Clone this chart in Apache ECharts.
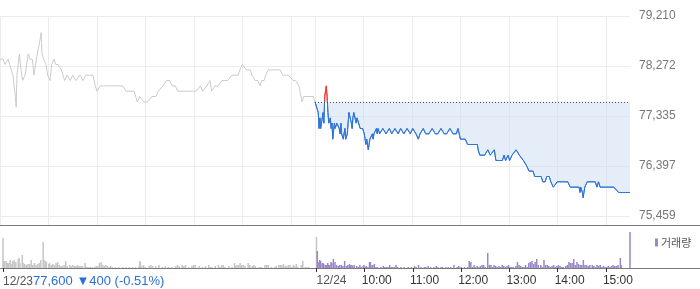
<!DOCTYPE html>
<html><head><meta charset="utf-8">
<script src="https://cdn.jsdelivr.net/npm/echarts@6/dist/echarts.min.js"></script>
<style>html,body{margin:0;padding:0;background:#fff}#c{width:700px;height:289px}</style>
</head><body><div id="c"></div>
<script>
// ---- data (minutes from 09:00 of each day, price in KRW) ----
const dayLabels = ['12/23', '12/24'];
const hourLabels = ['10:00', '11:00', '12:00', '13:00', '14:00', '15:00'];
const yTicks = [75459, 76397, 77335, 78272, 79210];
const prevClose = 77600, prevChange = -400, prevPct = -0.51;

const day1Price = [[0,78400],[4,78400],[6,78300],[10,78400],[12,78300],[16,78100],[19,77700],[20,77500],[21,78100],[24,78500],[26,78200],[28,78000],[31,78100],[35,78500],[37,78400],[40,78400],[42,78100],[45,78400],[47,78400],[50,78800],[51,78900],[52,78500],[54,78400],[57,78300],[59,78100],[62,78000],[64,78300],[67,78400],[69,78300],[72,78300],[76,78200],[78,78200],[80,78000],[83,78100],[87,78000],[90,78100],[94,78000],[99,78100],[103,78000],[106,78100],[111,78100],[115,78100],[118,77900],[120,77800],[124,77900],[128,77900],[131,77900],[136,77900],[140,77900],[145,77900],[149,77900],[152,77900],[156,77800],[161,77800],[166,77800],[170,77600],[173,77700],[178,77600],[183,77600],[188,77700],[193,77700],[196,77800],[198,77800],[202,77900],[206,78000],[210,78000],[213,77900],[217,77900],[220,77800],[225,77800],[229,77800],[233,77800],[238,77800],[243,77800],[248,77900],[251,77800],[256,77900],[260,78000],[262,77800],[266,77900],[270,77900],[275,78000],[279,78000],[282,78000],[287,78100],[291,78100],[295,78100],[297,78200],[300,78300],[302,78300],[305,78200],[307,78200],[310,78200],[312,78100],[316,78000],[319,78000],[322,77900],[324,78000],[327,78000],[329,78100],[332,78200],[336,78200],[339,78200],[343,78200],[347,78200],[350,78100],[353,78100],[357,78100],[359,78100],[363,78000],[366,78000],[370,77900],[371,77900],[374,77600],[376,77700],[379,77700],[381,77700],[384,77700],[388,77700],[390,77600]];

const day2Price = [[0,77600],[1,77600],[4,77400],[5,77100],[6,77300],[7,77100],[9,77300],[10,77400],[11,77200],[12,77700],[14,77900],[15,77700],[16,77400],[17,77200],[19,77300],[20,77100],[21,77200],[22,76900],[24,77200],[25,77100],[26,77100],[27,77200],[30,77100],[31,77000],[32,77200],[33,77000],[35,76900],[36,76900],[37,77100],[38,76900],[40,77000],[41,77200],[42,77400],[43,77400],[45,77200],[46,77100],[47,77300],[48,77400],[50,77400],[51,77200],[52,77300],[53,77300],[54,77300],[56,77100],[57,77100],[58,77100],[59,77100],[61,77000],[62,76900],[63,76800],[64,76900],[66,76700],[67,76800],[68,76900],[71,77000],[72,76900],[73,77000],[74,77000],[76,77100],[77,77000],[78,77100],[80,77000],[84,77100],[88,77000],[92,77100],[95,77000],[99,77100],[103,77000],[106,77100],[110,77000],[114,77100],[118,77000],[121,77100],[125,77000],[128,76900],[130,77000],[134,77100],[137,77000],[141,77000],[145,77100],[149,77000],[152,77000],[156,77100],[160,77000],[163,77000],[167,77100],[171,77000],[175,77000],[177,77100],[180,76900],[182,76900],[186,76900],[189,76800],[194,76800],[198,76800],[201,76800],[202,76700],[204,76600],[207,76600],[210,76600],[214,76700],[217,76600],[219,76600],[222,76700],[224,76500],[227,76500],[229,76500],[232,76500],[234,76600],[236,76500],[239,76600],[241,76500],[244,76600],[246,76600],[249,76700],[250,76700],[253,76600],[255,76600],[258,76500],[260,76500],[262,76400],[265,76300],[267,76300],[270,76300],[272,76200],[275,76200],[277,76200],[280,76200],[282,76100],[285,76100],[287,76200],[290,76200],[292,76100],[295,76000],[297,76000],[300,76100],[302,76100],[306,76100],[310,76100],[313,76100],[316,76000],[318,76000],[322,76000],[324,76000],[327,76000],[328,75900],[329,76000],[331,75900],[332,75800],[333,75900],[334,76000],[337,76100],[339,76100],[343,76100],[347,76100],[349,76000],[351,76100],[352,76100],[353,76000],[354,76000],[357,76000],[361,76000],[365,76000],[370,76000],[372,76000],[376,75900],[384,75900],[390,75900]];

// volume (thousand shares)
const day1Vol = [[0,30],[1,7],[2,7],[4,7],[5,5],[6,5],[7,5],[9,8],[10,4],[12,7],[14,8],[16,6],[19,9],[20,10],[21,5],[24,13],[25,5],[27,4],[29,3],[31,4],[33,4],[35,8],[37,3],[39,5],[41,3],[43,4],[45,5],[47,8],[50,26],[51,8],[53,7],[54,6],[57,4],[58,5],[60,3],[62,4],[64,3],[66,5],[68,6],[70,3],[72,2],[74,2],[76,3],[78,7],[80,2],[83,3],[85,2],[87,3],[89,2],[91,2],[93,3],[95,2],[97,2],[99,2],[102,5],[103,2],[105,1],[107,1],[109,1],[111,1],[114,1],[116,2],[118,2],[120,5],[122,6],[124,3],[126,2],[128,3],[130,2],[132,1],[134,2],[136,1],[140,1],[144,1],[149,1],[153,1],[157,1],[161,1],[165,1],[169,1],[170,7],[171,6],[173,2],[175,3],[177,1],[182,2],[184,3],[186,2],[190,2],[194,3],[198,1],[202,2],[206,1],[210,1],[215,2],[217,3],[219,2],[223,3],[225,2],[227,3],[231,1],[235,2],[237,3],[239,3],[244,2],[248,1],[252,2],[256,3],[258,1],[260,1],[264,2],[268,3],[270,1],[272,3],[274,3],[276,1],[281,2],[285,1],[288,5],[289,2],[291,3],[293,3],[295,5],[297,3],[299,3],[301,2],[305,5],[307,3],[310,2],[312,3],[314,2],[318,1],[320,1],[322,1],[326,3],[328,3],[330,3],[334,1],[338,1],[340,2],[343,3],[345,3],[347,3],[349,4],[351,2],[353,2],[355,3],[357,3],[359,1],[361,3],[363,2],[365,4],[367,1],[371,3],[373,7],[376,1],[378,1],[380,1],[390,31]];

const day2Vol = [[1,17],[3,6],[4,8],[5,7],[7,5],[8,5],[9,4],[11,3],[12,3],[14,5],[15,3],[16,3],[18,6],[19,5],[21,9],[23,6],[25,3],[27,2],[29,3],[31,3],[33,2],[35,7],[37,2],[39,3],[41,4],[42,3],[44,3],[45,2],[47,3],[50,2],[52,1],[54,3],[56,1],[58,2],[59,3],[61,1],[62,2],[64,1],[66,6],[67,6],[69,3],[70,3],[72,4],[74,1],[76,1],[80,1],[83,2],[85,1],[87,1],[89,1],[91,3],[93,1],[95,1],[97,1],[99,3],[101,1],[105,1],[109,1],[114,1],[118,1],[122,2],[124,1],[127,3],[130,1],[134,1],[136,1],[139,2],[142,1],[146,1],[149,2],[151,1],[155,1],[157,1],[161,1],[164,1],[167,1],[171,3],[175,1],[177,2],[180,1],[184,1],[188,1],[190,7],[192,6],[194,1],[196,3],[198,1],[200,2],[202,1],[204,2],[206,3],[208,3],[210,1],[213,15],[215,3],[217,3],[219,1],[221,3],[223,2],[225,1],[227,2],[229,1],[231,3],[233,2],[235,1],[237,2],[239,3],[241,1],[243,1],[245,1],[248,2],[250,6],[252,3],[254,2],[256,1],[258,1],[260,3],[262,1],[264,5],[266,6],[268,7],[270,4],[272,6],[274,9],[276,3],[279,3],[281,1],[283,8],[285,3],[287,3],[289,2],[291,1],[293,2],[295,3],[297,1],[299,2],[301,3],[303,2],[305,1],[307,1],[310,2],[312,3],[314,6],[316,5],[318,5],[320,9],[322,3],[324,6],[326,4],[328,3],[330,3],[332,8],[334,3],[336,3],[338,2],[340,3],[343,3],[345,2],[347,1],[349,3],[351,2],[353,3],[355,1],[357,2],[359,1],[361,1],[363,2],[365,1],[367,2],[369,3],[371,2],[373,2],[375,3],[378,10],[379,3],[390,36]];

// ---- build ----
const DAY = 390;                        // minutes in one session
const cats = Array.from({length: 2 * DAY + 1}, (_, i) => String(i));
const fmt = v => Math.round(v).toLocaleString('en-US');
const isGrid = i => (i <= 360 && i % 60 === 0) || (i >= DAY && (i - DAY) % 60 === 0);
const isTick = i => i === 0 || (i >= DAY && i <= DAY + 360 && (i - DAY) % 60 === 0);
const prevText = fmt(prevClose) + ' ' + (prevChange < 0 ? '▼' : '▲') + Math.abs(prevChange) + ' (' + prevPct.toFixed(2) + '%)';
const shift = (arr, off) => arr.map(d => [d[0] + off, d[1]]);
const UP = '#f23c3c', DOWN = '#2f74d8';

const FONT = '"Liberation Sans", Arial, "DejaVu Sans", sans-serif';
const gridLine = {show: true, lineStyle: {color: '#ececec', width: 1}};
const baseX = gi => ({type: 'category', gridIndex: gi, data: cats, boundaryGap: false,
  axisLine: {show: false}, axisTick: {show: false}, axisLabel: {show: false},
  splitLine: Object.assign({interval: (i) => isGrid(i)}, gridLine)});

const chart = echarts.init(document.getElementById('c'), null, {renderer: 'canvas'});
chart.setOption({
  animation: false,
  textStyle: {fontFamily: FONT},
  grid: [
    {left: 0, right: 70, top: 16, height: 200},
    {left: 0, right: 70, top: 216, height: 9},
    {left: 0, right: 70, top: 225, height: 43}
  ],
  legend: {data: ['거래량'], left: 650, top: 232, icon: 'rect', itemWidth: 3, itemHeight: 8,
    selectedMode: false, textStyle: {fontSize: 11, color: '#555', fontFamily: '"Noto Sans CJK KR", sans-serif', padding: [0, 0, 0, -2]}},
  xAxis: [
    baseX(0),
    baseX(1),
    {type: 'category', gridIndex: 2, data: cats, boundaryGap: false,
      axisLine: {show: false},
      axisTick: {show: true, interval: (i) => isTick(i), length: 4, lineStyle: {color: '#333'}},
      splitLine: {show: false},
      axisLabel: {show: true, interval: (i) => isTick(i), align: 'left', margin: 7,
        color: '#333', fontSize: 12,
        formatter: (v) => {
          const i = +v;
          if (i === 0) return '{d|' + dayLabels[0] + '}{p|' + prevText + '}';
          if (i === DAY) return '{d|' + dayLabels[1] + '}';
          return '{t|' + hourLabels[(i - DAY) / 60 - 1] + '}';
        },
        rich: {d: {color: '#555', fontSize: 12, fontFamily: FONT},
               t: {color: '#333', fontSize: 12, fontFamily: FONT, padding: [0, 0, 0, -3]},
               p: {color: '#2a6fd6', fontSize: 13, fontFamily: FONT}}}}
  ],
  yAxis: [
    {type: 'value', gridIndex: 0, position: 'right', min: yTicks[0], max: yTicks[4],
      interval: (yTicks[4] - yTicks[0]) / 4,
      axisLine: {show: false}, axisTick: {show: false},
      axisLabel: {margin: 9, color: '#777', fontSize: 12, formatter: v => fmt(v)},
      splitLine: gridLine},
    {type: 'value', gridIndex: 1, show: false, splitLine: {show: false}},
    {type: 'value', gridIndex: 2, min: 0, max: 43, show: false, splitLine: {show: false}}
  ],
  series: [
    {name: 'prev', type: 'line', xAxisIndex: 0, yAxisIndex: 0, data: day1Price,
      symbol: 'none', lineStyle: {color: '#c9cbcf', width: 1}, itemStyle: {color: '#c9cbcf'}, z: 3},
    {name: 'today', type: 'line', xAxisIndex: 0, yAxisIndex: 0, data: shift(day2Price, DAY),
      symbol: 'none', lineStyle: {width: 1, color: DOWN}, itemStyle: {color: DOWN},
      areaStyle: {origin: prevClose, color: 'rgba(203,219,243,0.5)', opacity: 1},
      markLine: {silent: true, symbol: 'none', label: {show: false},
        lineStyle: {type: [1, 2], color: '#555', width: 1},
        data: [[{coord: [String(DAY), prevClose]}, {coord: [String(2 * DAY), prevClose]}]]},
      z: 3},
    {name: 'vol1', type: 'bar', xAxisIndex: 2, yAxisIndex: 2, data: day1Vol,
      barWidth: 1.5, barGap: '-100%', itemStyle: {color: '#c5c5c5'}},
    {name: '거래량', type: 'bar', xAxisIndex: 2, yAxisIndex: 2, data: shift(day2Vol, DAY),
      barWidth: 1.5, barGap: '-100%', itemStyle: {color: '#9a86c9'}}
  ],
  graphic: [
    {type: 'line', shape: {x1: 0, y1: 225.5, x2: 700, y2: 225.5}, style: {stroke: '#7a7a7a', lineWidth: 1}, silent: true},
    {type: 'line', shape: {x1: 0, y1: 268.5, x2: 700, y2: 268.5}, style: {stroke: '#7a7a7a', lineWidth: 1}, silent: true}
  ]
});

// colour the part of today's line above the previous close red (split at the axis position of prevClose)
const H = chart.getHeight();
const yPrev = chart.convertToPixel({xAxisIndex: 0, yAxisIndex: 0}, [String(DAY), prevClose])[1];
const f = Math.min(1, Math.max(0, yPrev / H));
chart.setOption({series: [{}, {lineStyle: {color: new echarts.graphic.LinearGradient(0, 0, 0, H, [
  {offset: 0, color: UP}, {offset: f, color: UP}, {offset: f, color: DOWN}, {offset: 1, color: DOWN}], true)}}]});
</script></body></html>
